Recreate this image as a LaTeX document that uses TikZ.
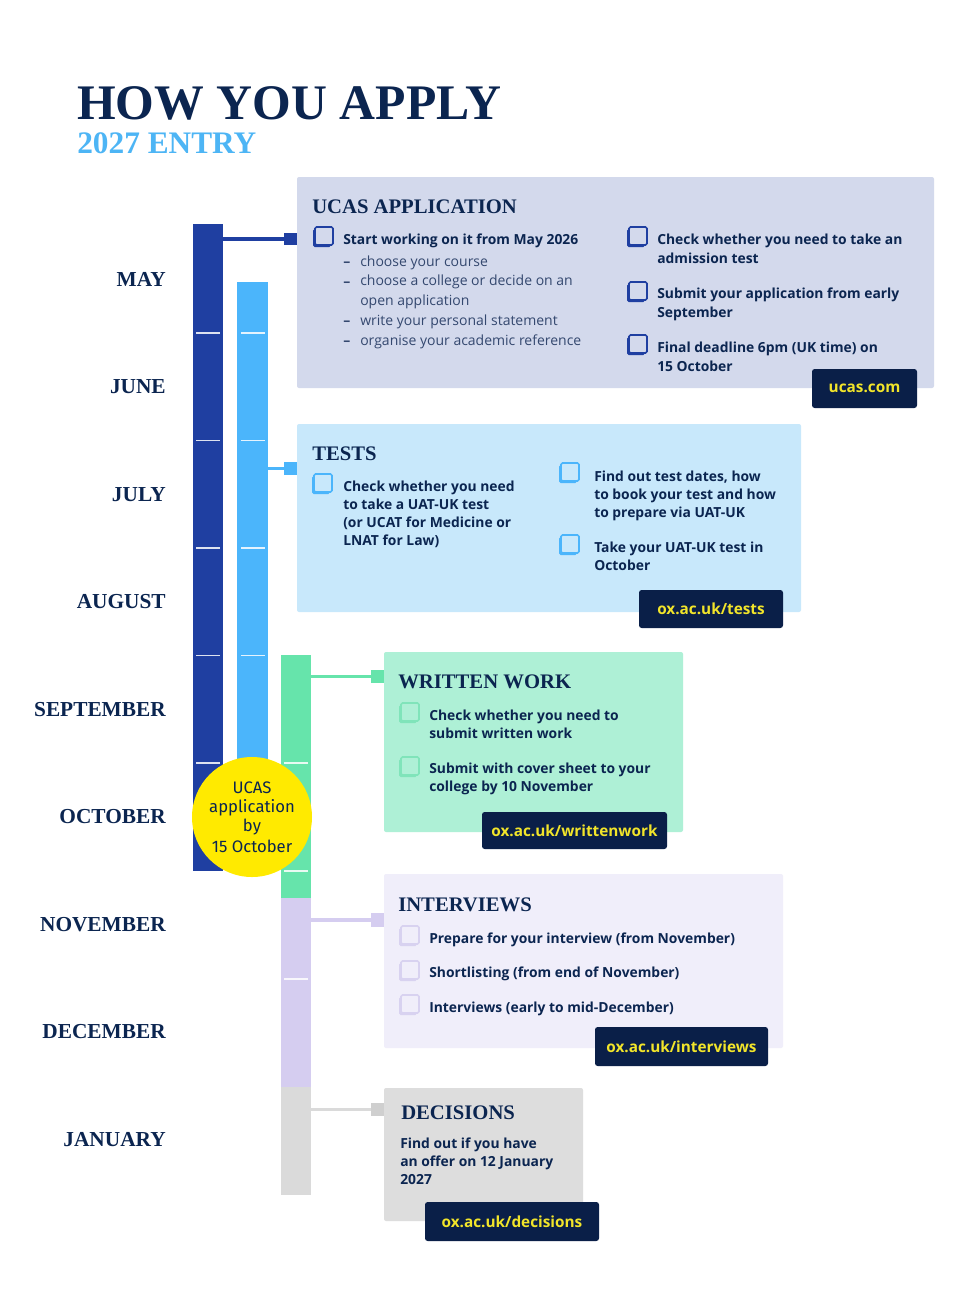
\documentclass[tikz,border=0pt]{standalone}
\usepackage{fontspec}
\setmainfont{Open Sans}
\newfontfamily\headfont{Liberation Serif}
\newfontfamily\circfont{Fira Sans}
\usetikzlibrary{fit}
\definecolor{navy}{HTML}{0B2550}
\definecolor{softnavy}{HTML}{34486F}
\definecolor{linkbg}{HTML}{0A1F48}
\definecolor{linkfg}{HTML}{F2E52A}
\definecolor{darkbar}{HTML}{1F3FA1}
\definecolor{lightbar}{HTML}{4BB5FB}
\definecolor{greenbar}{HTML}{66E4AB}
\definecolor{lavbar}{HTML}{D5CDF0}
\definecolor{graybar}{HTML}{DADADA}
\definecolor{ucasfill}{HTML}{D3D9EC}
\definecolor{testsfill}{HTML}{C8E8FB}
\definecolor{writtenfill}{HTML}{AEF0D6}
\definecolor{intfill}{HTML}{F0EEFA}
\definecolor{decfill}{HTML}{DDDDDD}
\definecolor{entryblue}{HTML}{4DB5F5}
\definecolor{sunny}{HTML}{FFEA00}
\definecolor{graysq}{HTML}{CFCFCF}
\definecolor{greenck}{HTML}{80E4BA}
\definecolor{lavck}{HTML}{D8D2F0}

\newcommand\textlines[6]{%
  \foreach \tl [count=\ti] in {#6} {%
    \node[#5, anchor=base west, inner sep=0pt] (#1-\ti) at ({#2},{#3+(\ti-1)*#4}) {\tl};
  }%
}
\newcommand\ckbox[4]{%
  \fill[#3, rounded corners=1.2pt] ({#1-2},{#2+2}) rectangle ({#1+16},{#2+20});
  \filldraw[fill=#4, draw=#3, line width=1.2pt, rounded corners=1.2pt] ({#1},{#2}) rectangle ({#1+18},{#2+18});
}

\tikzset{
  block/.style={inner sep=0pt, outer sep=0pt, draw=none},
  panel/.style={block, rounded corners=1.5pt},
  month/.style={anchor=base east, inner sep=0pt, text=navy, font=\headfont\bfseries\fontsize{16}{19}\selectfont},
  head/.style={text=navy, font=\headfont\bfseries\fontsize{15.5}{18}\selectfont},
  item/.style={text=navy, font=\bfseries\fontsize{10.4}{13}\selectfont},
  sub/.style={text=softnavy, font=\fontsize{10.5}{13}\selectfont},
  linkbox/.style={block, fill=linkbg, rounded corners=2pt},
  linktext/.style={inner sep=0pt, text=linkfg, font=\bfseries\fontsize{11.5}{13}\selectfont},
  tickmark/.style={draw=white, draw opacity=0.85, line width=1.1pt},
  conn/.style={line width=2.3pt},
  circtext/.style={anchor=base, inner sep=0pt, text=navy, font=\circfont\fontsize{12.5}{15}\selectfont}
}

\begin{document}
\begin{tikzpicture}[x=0.75pt,y=-0.75pt]
\useasboundingbox (0,0) rectangle (963,1290);
\fill[white] (0,0) rectangle (963,1290);

% title
\node[anchor=base west, inner sep=0pt, text=navy, font=\headfont\bfseries\fontsize{37.3}{40}\selectfont] (title) at (77,119) {HOW YOU APPLY};
\node[anchor=base west, inner sep=0pt, text=entryblue, font=\headfont\bfseries\fontsize{23.5}{26}\selectfont] (entry) at (77,153) {2027 ENTRY};

% months
\node[month] (m1) at (166,286) {MAY};
\node[month] (m2) at (166,393.5) {JUNE};
\node[month] (m3) at (166,501) {JULY};
\node[month] (m4) at (166,608.5) {AUGUST};
\node[month] (m5) at (166,716) {SEPTEMBER};
\node[month] (m6) at (166,823.5) {OCTOBER};
\node[month] (m7) at (166,931) {NOVEMBER};
\node[month] (m8) at (166,1038.5) {DECEMBER};
\node[month] (m9) at (166,1146) {JANUARY};

% bars
\node[block, fill=darkbar, fit={(193,224) (223,871)}] (barA) {};
\node[block, fill=lightbar, fit={(237,282) (268,840)}] (barB) {};
\node[block, fill=greenbar, fit={(281,655) (311,898)}] (barC) {};
\node[block, fill=lavbar, fit={(281,898) (311,1087)}] (barD) {};
\node[block, fill=graybar, fit={(281,1087) (311,1195)}] (barE) {};
\foreach \yy in {333,440.5,548,655.5,763} \draw[tickmark] (196,\yy) -- (220,\yy);
\foreach \yy in {333,440.5,548,655.5} \draw[tickmark] (241,\yy) -- (265,\yy);
\foreach \yy in {763,871,979} \draw[tickmark] (284,\yy) -- (308,\yy);

% connector squares
\node[block, fill=darkbar, fit={(284,233) (297,245)}] (sqA) {};
\node[block, fill=lightbar, fit={(284,462) (297,475)}] (sqB) {};
\node[block, fill=greenbar, fit={(371,670) (384,683)}] (sqC) {};
\node[block, fill=lavbar, fit={(371,913) (384,927)}] (sqD) {};
\node[block, fill=graysq, fit={(371,1103) (384,1116)}] (sqE) {};
\draw[conn, darkbar] (barA.east |- sqA.west) -- (sqA.west);
\draw[conn, lightbar] (barB.east |- sqB.west) -- (sqB.west);
\draw[conn, greenbar] (barC.east |- sqC.west) -- (sqC.west);
\draw[conn, lavbar] (barD.east |- sqD.west) -- (sqD.west);
\draw[conn, graybar] (barE.east |- sqE.west) -- (sqE.west);

% ---------- UCAS panel
\node[panel, fill=ucasfill, fit={(297,177) (934,388)}] (ucas) {};
\node[head, anchor=base west, inner sep=0pt] (ucasT) at (312,213) {UCAS APPLICATION};
\ckbox{315}{227}{darkbar}{ucasfill}
\node[item, anchor=base west, inner sep=0pt] (ucasL) at (343,244) {Start working on it from May 2026};
\foreach \yy [count=\k] in {266,286,325,345} \node[sub, anchor=base west, inner sep=0pt, font=\bfseries\fontsize{10.5}{13}\selectfont] (dash\k) at (343,\yy) {\textendash};
\textlines{ucasS}{360}{266}{19.75}{sub}{{choose your course},{choose a college or decide on an},{open application},{write your personal statement},{organise your academic reference}}
\ckbox{629}{227}{darkbar}{ucasfill}
\ckbox{629}{282}{darkbar}{ucasfill}
\ckbox{629}{335}{darkbar}{ucasfill}
\textlines{ucasR1}{657}{244}{19}{item}{{Check whether you need to take an},{admission test}}
\textlines{ucasR2}{657}{298}{19}{item}{{Submit your application from early},{September}}
\textlines{ucasR3}{657}{352}{19}{item}{{Final deadline 6pm (UK time) on},{15 October}}
\node[linkbox, fit={(812,369) (917,408)}] (ucasLink) {};
\node[linktext] (ucasLinkT) at (ucasLink.center) {ucas.com};

% ---------- TESTS panel
\node[panel, fill=testsfill, fit={(297,424) (801,612)}] (tests) {};
\node[head, anchor=base west, inner sep=0pt] (testsT) at (312,460) {TESTS};
\ckbox{314}{474}{lightbar}{testsfill}
\textlines{testsL}{343}{491.5}{18}{item}{{Check whether you need},{to take a UAT-UK test},{(or UCAT for Medicine or},{LNAT for Law)}}
\ckbox{561}{463}{lightbar}{testsfill}
\ckbox{561}{535}{lightbar}{testsfill}
\textlines{testsR1}{594}{481}{18}{item}{{Find out test dates, how},{to book your test and how},{to prepare via UAT-UK}}
\textlines{testsR2}{594}{552}{18}{item}{{Take your UAT-UK test in},{October}}
\node[linkbox, fit={(639,590) (783,628)}] (testsLink) {};
\node[linktext] (testsLinkT) at (testsLink.center) {ox.ac.uk/tests};

% ---------- WRITTEN WORK panel
\node[panel, fill=writtenfill, fit={(384,652) (683,832)}] (written) {};
\node[head, anchor=base west, inner sep=0pt] (writtenT) at (398,688) {WRITTEN WORK};
\ckbox{401}{703}{greenck}{writtenfill}
\ckbox{401}{757}{greenck}{writtenfill}
\textlines{writtenA}{429}{720}{18}{item}{{Check whether you need to},{submit written work}}
\textlines{writtenB}{429}{773}{18}{item}{{Submit with cover sheet to your},{college by 10 November}}
\node[linkbox, fit={(482,812) (667,849)}] (writtenLink) {};
\node[linktext] (writtenLinkT) at (writtenLink.center) {ox.ac.uk/writtenwork};

% ---------- INTERVIEWS panel
\node[panel, fill=intfill, fit={(384,874) (783,1048)}] (interviews) {};
\node[head, anchor=base west, inner sep=0pt] (interviewsT) at (398,911) {INTERVIEWS};
\ckbox{401}{926}{lavck}{intfill}
\ckbox{401}{961}{lavck}{intfill}
\ckbox{401}{995}{lavck}{intfill}
\node[item, anchor=base west, inner sep=0pt] (intA) at (429,943) {Prepare for your interview (from November)};
\node[item, anchor=base west, inner sep=0pt] (intB) at (429,977) {Shortlisting (from end of November)};
\node[item, anchor=base west, inner sep=0pt] (intC) at (429,1012) {Interviews (early to mid-December)};
\node[linkbox, fit={(595,1027) (768,1066)}] (intLink) {};
\node[linktext] (intLinkT) at (intLink.center) {ox.ac.uk/interviews};

% ---------- DECISIONS panel
\node[panel, fill=decfill, fit={(384,1088) (583,1221)}] (decisions) {};
\node[head, anchor=base west, inner sep=0pt] (decisionsT) at (401,1119) {DECISIONS};
\textlines{dec}{400}{1148}{18}{item}{{Find out if you have},{an offer on 12 January},{2027}}
\node[linkbox, fit={(425,1202) (599,1241)}] (decLink) {};
\node[linktext] (decLinkT) at (decLink.center) {ox.ac.uk/decisions};

% ---------- deadline circle
\node[circle, fill=sunny, inner sep=0pt, minimum size=90pt] (deadline) at (252,817) {};
\node[circtext] (c1) at (252,793) {UCAS};
\node[circtext] (c2) at (252,812) {application};
\node[circtext] (c3) at (252,831) {by};
\node[circtext] (c4) at (252,852) {15 October};
\end{tikzpicture}
\end{document}
